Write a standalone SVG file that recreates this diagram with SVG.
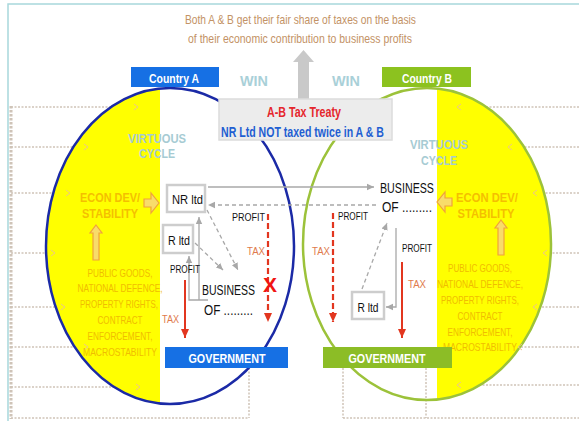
<svg xmlns="http://www.w3.org/2000/svg" width="579" height="421" viewBox="0 0 579 421">
<defs>
<style>
text{font-family:"Liberation Sans Narrow","Liberation Sans",Arial,sans-serif}
.fr{fill:none;stroke:#cfc4b8;stroke-width:1.5;stroke-dasharray:2 1.5}
.fv{fill:none;stroke:#cfc4b8;stroke-width:3;stroke-dasharray:2.5 1.5}
.fa{fill:none;stroke:#ecc68a;stroke-width:1}
.cap{font-weight:bold;fill:#fff;font-size:13px;text-anchor:middle}
.win{font-weight:bold;fill:#a9d0d8;font-size:15px;text-anchor:middle}
.vc{font-weight:bold;fill:#a6cbd3;font-size:12px;text-anchor:middle}
.yb{font-weight:bold;fill:#f4bf00;font-size:13px;text-anchor:middle}
.yt{fill:#f0bd00;font-size:10.5px;text-anchor:middle}
.lbl{fill:#111;font-size:14px}
.nm{fill:#111;font-size:13px;text-anchor:middle}
.pr{fill:#111;font-size:10px}
.tx{fill:#e07a4c;font-size:11.5px}
.box{fill:#fff;stroke:#cdcdcd;stroke-width:2.5}
.gs{fill:none;stroke:#a8a8a8;stroke-width:1.3}
.gd{fill:none;stroke:#a8a8a8;stroke-width:1.3;stroke-dasharray:4 3}
.rs{fill:none;stroke:#e2361f;stroke-width:2}
.rd{fill:none;stroke:#e2361f;stroke-width:2.2;stroke-dasharray:6 3}
.ho{fill:#f8dc6a;stroke:#f0a23c;stroke-width:1.2}
</style>
<marker id="ag" markerWidth="8" markerHeight="8" refX="7" refY="4" orient="auto" markerUnits="userSpaceOnUse"><path d="M0,0.8 L7,4 L0,7.2 z" fill="#a8a8a8"/></marker>
<marker id="ar" markerWidth="10" markerHeight="10" refX="9" refY="5" orient="auto" markerUnits="userSpaceOnUse"><path d="M0,1 L9,5 L0,9 z" fill="#e2361f"/></marker>
<clipPath id="cl"><rect x="0" y="0" width="160" height="421"/></clipPath>
<clipPath id="cr"><rect x="437" y="0" width="142" height="421"/></clipPath>
</defs>
<rect x="0" y="0" width="579" height="421" fill="#fff"/>
<path d="M8,421 V4 H579" fill="none" stroke="#a8d8dc" stroke-width="1.5"/>

<g id="frame">
<path class="fv" d="M11,106 V419"/>
<path class="fr" d="M11,107 H113 M11,147 H74 M11,193 H54 M11,253 H46 M11,307 H56 M11,347 H75 M11,387 H114 M11,418 H249 M249,368 V418"/>
<path class="fr" d="M579,107 H486 M579,147 H524 M579,193 H544 M579,253 H551 M579,307 H540 M579,347 H520 M579,385 H480 M343,368 V418 M426,368 V418 M343,418 H579"/>
</g>

<g id="countryA-cycle">
<ellipse cx="170" cy="246" rx="124" ry="158" fill="#ffff00" clip-path="url(#cl)"/>
<ellipse cx="170" cy="246" rx="124" ry="158" fill="none" stroke="#1b2aa6" stroke-width="2.5"/>
</g>
<g id="countryB-cycle">
<ellipse cx="427" cy="244" rx="124" ry="156" fill="#ffff00" clip-path="url(#cr)"/>
<ellipse cx="427" cy="244" rx="124" ry="156" fill="none" stroke="#9cc23a" stroke-width="2.5"/>
</g>

<g id="faint-arrows" class="fa">
<path d="M134,104 L138,107 L134,110 M84,144 L88,147 L84,150 M66,190 L70,193 L66,196 M51,250 L55,253 L51,256 M61,304 L65,307 L61,310 M84,344 L88,347 L84,350 M136,384 L140,387 L136,390"/>
<path d="M461,104 L457,107 L461,110 M512,144 L508,147 L512,150 M537,190 L533,193 L537,196 M547,250 L543,253 L547,256 M537,304 L533,307 L537,310 M522,344 L518,347 L522,350 M461,382 L457,385 L461,388"/>
</g>

<g id="title">
<text x="300.5" y="24" font-size="13" fill="#c39265" text-anchor="middle" textLength="231" lengthAdjust="spacingAndGlyphs">Both A &amp; B get their fair share of taxes on the basis</text>
<text x="300" y="43" font-size="13" fill="#c39265" text-anchor="middle" textLength="224" lengthAdjust="spacingAndGlyphs">of their economic contribution to business profits</text>
<path d="M298,99 V62 H293 L303.5,50 L314,62 H309 V99 z" fill="#c9c9c9"/>
</g>

<g id="countryA">
<rect x="131" y="67" width="88" height="20" fill="#1670e4"/>
<text class="cap" x="174" y="83" textLength="50" lengthAdjust="spacingAndGlyphs">Country A</text>
</g>
<g id="countryB">
<rect x="382" y="67" width="89" height="20" fill="#8cc21f"/>
<text class="cap" x="427" y="83" textLength="50" lengthAdjust="spacingAndGlyphs">Country B</text>
</g>
<g id="win">
<text class="win" x="254" y="86" textLength="28" lengthAdjust="spacingAndGlyphs">WIN</text>
<text class="win" x="346" y="86" textLength="28" lengthAdjust="spacingAndGlyphs">WIN</text>
</g>

<g id="treaty">
<rect x="219" y="99" width="173" height="41" fill="#ececec" stroke="#dcdcdc" stroke-width="1.5"/>
<text x="304" y="117" font-size="14" font-weight="bold" fill="#e5262c" text-anchor="middle" textLength="74" lengthAdjust="spacingAndGlyphs">A-B Tax Treaty</text>
<text x="302.5" y="137" font-size="14" font-weight="bold" fill="#1f5fd2" text-anchor="middle" textLength="163" lengthAdjust="spacingAndGlyphs">NR Ltd NOT taxed twice in A &amp; B</text>
</g>

<g id="yellowA">
<text class="vc" x="157" y="143" textLength="58" lengthAdjust="spacingAndGlyphs">VIRTUOUS</text>
<text class="vc" x="157" y="158" textLength="36" lengthAdjust="spacingAndGlyphs">CYCLE</text>
<text class="yb" x="110" y="202" textLength="60" lengthAdjust="spacingAndGlyphs">ECON DEV/</text>
<text class="yb" x="110" y="218" textLength="56" lengthAdjust="spacingAndGlyphs">STABILITY</text>
<path class="ho" d="M144,199 H151 V193 L159,203 L151,213 V207 H144 z"/>
<path class="ho" d="M96,225 L102,233 H99 V260 H93 V233 H90 z"/>
<text class="yt" x="120" y="277" textLength="65" lengthAdjust="spacingAndGlyphs">PUBLIC GOODS,</text>
<text class="yt" x="120" y="292" textLength="85" lengthAdjust="spacingAndGlyphs">NATIONAL DEFENCE,</text>
<text class="yt" x="119" y="308" textLength="78" lengthAdjust="spacingAndGlyphs">PROPERTY RIGHTS,</text>
<text class="yt" x="120" y="324" textLength="45" lengthAdjust="spacingAndGlyphs">CONTRACT</text>
<text class="yt" x="120" y="340" textLength="65" lengthAdjust="spacingAndGlyphs">ENFORCEMENT,</text>
<text class="yt" x="120" y="356" textLength="74" lengthAdjust="spacingAndGlyphs">MACROSTABILITY</text>
</g>

<g id="yellowB">
<text class="vc" x="439" y="149" textLength="58" lengthAdjust="spacingAndGlyphs">VIRTUOUS</text>
<text class="vc" x="439" y="165" textLength="36" lengthAdjust="spacingAndGlyphs">CYCLE</text>
<text class="yb" x="487" y="202" textLength="62" lengthAdjust="spacingAndGlyphs">ECON DEV/</text>
<text class="yb" x="486" y="218" textLength="57" lengthAdjust="spacingAndGlyphs">STABILITY</text>
<path class="ho" d="M452,198 H445 V192 L437,202 L445,212 V206 H452 z"/>
<path class="ho" d="M501,220 L507,228 H504 V255 H498 V228 H495 z"/>
<text class="yt" x="480" y="272" textLength="64" lengthAdjust="spacingAndGlyphs">PUBLIC GOODS,</text>
<text class="yt" x="480" y="288" textLength="86" lengthAdjust="spacingAndGlyphs">NATIONAL DEFENCE,</text>
<text class="yt" x="480" y="304" textLength="78" lengthAdjust="spacingAndGlyphs">PROPERTY RIGHTS,</text>
<text class="yt" x="480" y="320" textLength="45" lengthAdjust="spacingAndGlyphs">CONTRACT</text>
<text class="yt" x="480" y="336" textLength="65" lengthAdjust="spacingAndGlyphs">ENFORCEMENT,</text>
<text class="yt" x="480" y="351" textLength="74" lengthAdjust="spacingAndGlyphs">MACROSTABILITY</text>
</g>

<g id="connectors">
<path class="gs" d="M208,187 H374" marker-end="url(#ag)"/>
<path class="gd" d="M376,205 H208" marker-end="url(#ag)"/>
<path class="gd" d="M207,210 L238,270" marker-end="url(#ag)"/>
<path class="gd" d="M195,243 L223,270" marker-end="url(#ag)"/>
<path class="gs" d="M208,300 H189 V256" marker-end="url(#ag)"/>
<path class="gs" d="M199,300 V217" marker-end="url(#ag)"/>
<path class="rd" d="M268,214 V322" marker-end="url(#ar)"/>
<path class="rs" d="M185,280 V338" marker-end="url(#ar)"/>
<path class="gd" d="M362,289 L387,223" marker-end="url(#ag)"/>
<path class="gs" d="M396,228 V307 H386" marker-end="url(#ag)"/>
<path class="rd" d="M333,213 V322" marker-end="url(#ar)"/>
<path class="rs" d="M402,262 V338" marker-end="url(#ar)"/>
</g>

<g id="nrltd">
<rect class="box" x="167" y="185" width="38" height="27"/>
<text class="nm" x="187.5" y="204" textLength="31" lengthAdjust="spacingAndGlyphs">NR ltd</text>
</g>
<g id="rltdA">
<rect class="box" x="163" y="225" width="30" height="28"/>
<text class="nm" x="179" y="245" textLength="22" lengthAdjust="spacingAndGlyphs">R ltd</text>
</g>
<g id="businessA">
<text class="lbl" x="202" y="295" font-size="13" textLength="53" lengthAdjust="spacingAndGlyphs">BUSINESS</text>
<text class="lbl" x="204" y="315" textLength="49" lengthAdjust="spacingAndGlyphs">OF .........</text>
</g>
<g id="labelsA">
<text class="pr" x="232" y="221" textLength="33" lengthAdjust="spacingAndGlyphs">PROFIT</text>
<text class="tx" x="247" y="255" textLength="18" lengthAdjust="spacingAndGlyphs">TAX</text>
<text class="pr" x="170" y="273" textLength="30" lengthAdjust="spacingAndGlyphs">PROFIT</text>
<text class="tx" x="162" y="323" textLength="17" lengthAdjust="spacingAndGlyphs">TAX</text>
<text x="270" y="292" font-family="Liberation Sans,Arial,sans-serif" font-size="21" font-weight="bold" fill="#f01414" text-anchor="middle">X</text>
</g>
<g id="govA">
<rect x="165" y="347" width="123" height="21" fill="#1670e4"/>
<text class="cap" x="227" y="363" font-size="14" textLength="77" lengthAdjust="spacingAndGlyphs">GOVERNMENT</text>
</g>

<g id="businessB">
<text class="lbl" x="380" y="193" textLength="54" lengthAdjust="spacingAndGlyphs">BUSINESS</text>
<text class="lbl" x="382" y="212" textLength="50" lengthAdjust="spacingAndGlyphs">OF .........</text>
</g>
<g id="rltdB">
<rect class="box" x="352" y="292" width="32" height="27"/>
<text class="nm" x="368" y="312" textLength="21" lengthAdjust="spacingAndGlyphs">R ltd</text>
</g>
<g id="labelsB">
<text class="pr" x="338" y="220" textLength="30" lengthAdjust="spacingAndGlyphs">PROFIT</text>
<text class="tx" x="312" y="255" textLength="18" lengthAdjust="spacingAndGlyphs">TAX</text>
<text class="pr" x="402" y="252" textLength="30" lengthAdjust="spacingAndGlyphs">PROFIT</text>
<text class="tx" x="408" y="288" textLength="18" lengthAdjust="spacingAndGlyphs">TAX</text>
</g>
<g id="govB">
<rect x="323" y="347" width="129" height="21" fill="#8cbd26"/>
<text class="cap" x="387" y="363" font-size="14" textLength="77" lengthAdjust="spacingAndGlyphs">GOVERNMENT</text>
</g>
</svg>
